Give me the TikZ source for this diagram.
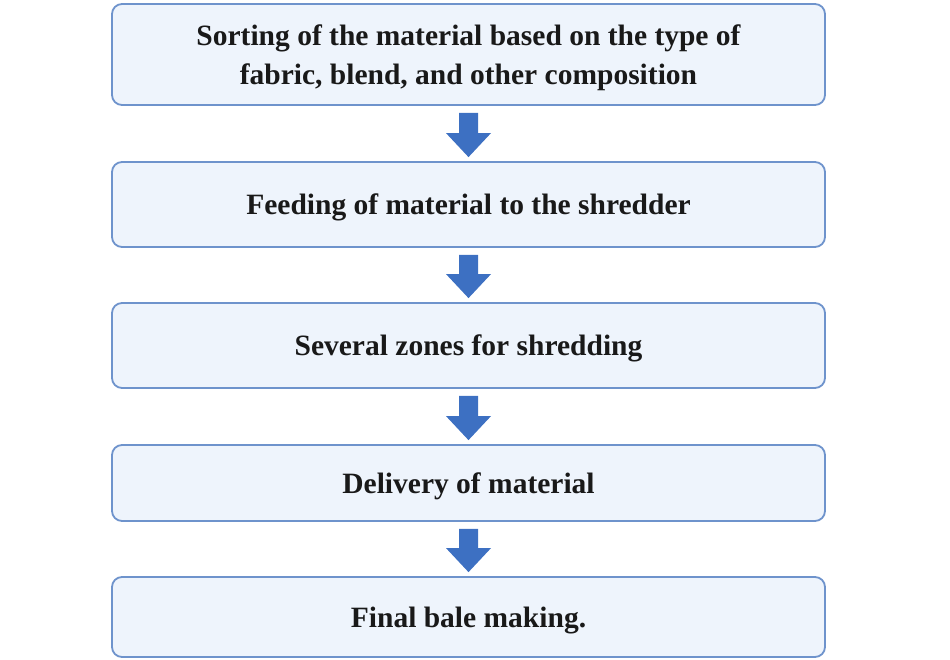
\documentclass[tikz,border=0pt]{standalone}
\usepackage{fontspec}
\setmainfont{Liberation Serif}
\usetikzlibrary{calc}
\definecolor{boxfill}{HTML}{EEF4FC}
\definecolor{boxline}{HTML}{6E93CC}
\definecolor{arrowcol}{HTML}{3D70C2}
\tikzset{
  stepbox/.style={draw=boxline, line width=1.8pt, fill=boxfill, rounded corners=10pt,
    minimum width=713pt, align=center, inner sep=0pt, text depth=0pt,
    font=\fontsize{29.5}{39.5}\selectfont\bfseries, text=black!90},
}
\newcommand{\blockarrow}[2]{%
  \fill[arrowcol] ($(#1.south)+(-9.5pt,-7pt)$) -- ($(#1.south)+(9.5pt,-7pt)$)
    -- ($(#2.north)+(9.5pt,28pt)$) -- ($(#2.north)+(22.5pt,28pt)$)
    -- ($(#2.north)+(0pt,4pt)$) -- ($(#2.north)+(-22.5pt,28pt)$)
    -- ($(#2.north)+(-9.5pt,28pt)$) -- cycle;}
\begin{document}
\begin{tikzpicture}[x=1pt,y=-1pt]
\useasboundingbox (0,0) rectangle (950,659);
\node[stepbox, minimum height=101pt] (b1) at (468.5,54.5) {Sorting of the material based on the type of\\fabric, blend, and other composition};
\node[stepbox, minimum height=85pt] (b2) at (468.5,204.5) {Feeding of material to the shredder};
\node[stepbox, minimum height=85pt] (b3) at (468.5,345.5) {Several zones for shredding};
\node[stepbox, minimum height=76pt] (b4) at (468.5,483) {Delivery of material};
\node[stepbox, minimum height=80pt] (b5) at (468.5,617) {Final bale making.};
\blockarrow{b1}{b2}
\blockarrow{b2}{b3}
\blockarrow{b3}{b4}
\blockarrow{b4}{b5}
\end{tikzpicture}
\end{document}
